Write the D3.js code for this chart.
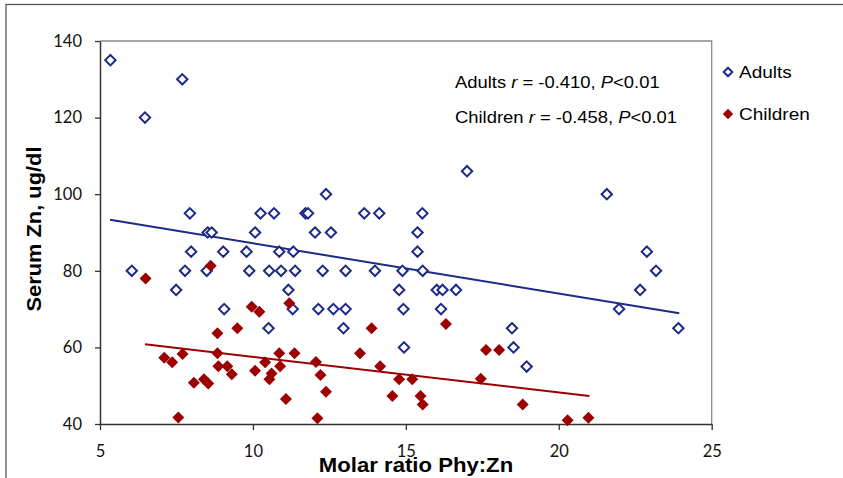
<!DOCTYPE html>
<html>
<head>
<meta charset="utf-8">
<script src="https://cdn.jsdelivr.net/npm/d3@7"></script>
<style>
  html, body { margin: 0; padding: 0; background: #fff; }
  svg { display: block; }
</style>
</head>
<body>
<svg id="chart" width="843" height="478"></svg>
<script>
// ---- data ----
const adultsX = [5.34, 6.47, 7.69, 6.04, 7.49, 7.78, 7.94, 7.98, 8.49, 8.52, 8.65, 9.03, 9.06, 9.79, 9.88, 10.07, 10.25, 10.51, 10.53, 10.69, 10.86, 10.92, 11.16, 11.30, 11.32, 11.38, 11.72, 11.80, 12.03, 12.14, 12.28, 12.39, 12.55, 12.63, 12.96, 13.03, 13.03, 13.64, 13.99, 14.13, 14.78, 14.89, 14.92, 14.94, 15.38, 15.38, 15.54, 15.55, 16.01, 16.15, 16.20, 16.64, 17.00, 18.47, 18.52, 18.95, 21.57, 21.97, 22.66, 22.88, 23.18, 23.91];
const adultsY = [135, 120, 130, 80, 75, 80, 95, 85, 80, 90, 90, 85, 70, 85, 80, 90, 95, 65, 80, 95, 85, 80, 75, 70, 85, 80, 95, 95, 90, 70, 80, 100, 90, 70, 65, 80, 70, 95, 80, 95, 75, 80, 70, 60, 90, 85, 95, 80, 75, 70, 75, 75, 106, 65, 60, 55, 100, 70, 75, 85, 80, 65];
const childrenX = [6.49, 7.10, 7.36, 7.56, 7.70, 8.07, 8.40, 8.54, 8.62, 8.84, 8.84, 8.87, 9.16, 9.31, 9.49, 9.96, 10.07, 10.21, 10.40, 10.54, 10.61, 10.86, 10.89, 11.08, 11.19, 11.36, 12.06, 12.11, 12.21, 12.39, 13.50, 13.88, 14.16, 14.56, 14.78, 15.21, 15.48, 15.55, 16.31, 17.45, 17.62, 18.05, 18.82, 20.29, 20.97];
const childrenY = [78.0, 57.3, 56.1, 41.7, 58.3, 50.8, 51.7, 50.6, 81.3, 63.7, 58.5, 55.1, 55.1, 53.0, 65.0, 70.6, 53.9, 69.3, 56.1, 51.7, 53.2, 58.5, 55.1, 46.5, 71.5, 58.5, 56.2, 41.5, 52.8, 48.4, 58.5, 65.0, 55.1, 47.3, 51.7, 51.7, 47.3, 45.1, 66.1, 51.8, 59.3, 59.3, 45.1, 41.0, 41.6];
const adultsTrendX = [5.33, 23.94];
const adultsTrendY = [93.3, 68.9];
const childrenTrendX = [6.47, 21.0];
const childrenTrendY = [60.8, 47.3];
const xTicks = [5, 10, 15, 20, 25];
const yTicks = [40, 60, 80, 100, 120, 140];
const seriesNames = ["Adults", "Children"];
const statLines = [
  ["Adults ", "r", " = -0.410, ", "P", "<0.01"],
  ["Children ", "r", " = -0.458, ", "P", "<0.01"]
];
const xTitle = "Molar ratio Phy:Zn";
const yTitle = "Serum Zn, ug/dl";

// ---- layout ----
const blue = "#1c2a88", red = "#9c0000";
const svg = d3.select("#chart");
const x = d3.scaleLinear().domain([5, 25]).range([100, 711.7]);
const y = d3.scaleLinear().domain([40, 140]).range([424, 41]);
const SX = 1.12;

// chart border
svg.append("rect").attr("x", 6).attr("y", 4.5).attr("width", 860).attr("height", 500)
  .attr("fill", "none").attr("stroke", "#555").attr("stroke-width", 1.3);

// plot border (top/right)
svg.append("path")
  .attr("d", `M${x(5)},${y(140)}H${x(25)}V${y(40)}`)
  .attr("fill", "none").attr("stroke", "#8a8a8a").attr("stroke-width", 1.3);

// axes
const yAxis = svg.append("g").attr("transform", `translate(${x(5)},0)`)
  .call(d3.axisLeft(y).tickValues(yTicks).tickSize(5).tickSizeOuter(0).tickPadding(13).tickFormat(d3.format("d")));
const xAxis = svg.append("g").attr("transform", `translate(0,${y(40)})`)
  .call(d3.axisBottom(x).tickValues(xTicks).tickSize(6).tickSizeOuter(0).tickPadding(15).tickFormat(d3.format("d")));
[xAxis, yAxis].forEach(g => {
  g.select(".domain").attr("stroke", "#333").attr("stroke-width", 1.5);
  g.selectAll(".tick line").attr("stroke", "#333").attr("stroke-width", 1.3);
  g.selectAll(".tick text").attr("font-family", "Lato, 'Open Sans', sans-serif")
    .attr("font-size", 16.5).attr("fill", "#111");
});

// trend lines
const line = d3.line().x(d => x(d[0])).y(d => y(d[1]));
svg.append("path").datum(d3.zip(adultsTrendX, adultsTrendY)).attr("d", line)
  .attr("stroke", blue).attr("stroke-width", 2).attr("fill", "none");
svg.append("path").datum(d3.zip(childrenTrendX, childrenTrendY)).attr("d", line)
  .attr("stroke", red).attr("stroke-width", 2).attr("fill", "none");

// markers
const diamond = r => `M0,${-r}L${r},0L0,${r}L${-r},0Z`;
svg.append("g").selectAll("path").data(d3.zip(adultsX, adultsY)).join("path")
  .attr("d", diamond(5.2))
  .attr("transform", d => `translate(${x(d[0])},${y(d[1])})`)
  .attr("fill", "#fff").attr("stroke", blue).attr("stroke-width", 2);
svg.append("g").selectAll("path").data(d3.zip(childrenX, childrenY)).join("path")
  .attr("d", diamond(6))
  .attr("transform", d => `translate(${x(d[0])},${y(d[1])})`)
  .attr("fill", red);

// helper for stretched text
function stretched(tx, ty, rot, sx) {
  return svg.append("text")
    .attr("transform", `translate(${tx},${ty}) rotate(${rot}) scale(${sx},1)`)
    .attr("font-family", "Arial, 'Liberation Sans', sans-serif");
}

// axis titles
stretched(416, 471.5, 0, 1.08).attr("text-anchor", "middle")
  .attr("font-size", 20.5).attr("font-weight", "bold").text(xTitle);
stretched(41, 229, -90, 1.12).attr("text-anchor", "middle")
  .attr("font-size", 19.5).attr("font-weight", "bold").text(yTitle);

// stats annotations
const statY = [87.7, 122.7];
statLines.forEach((parts, i) => {
  const t = stretched(455, statY[i], 0, 1.13).attr("font-size", 16.3).attr("fill", "#000");
  parts.forEach((p, j) => {
    t.append("tspan").attr("font-style", (j === 1 || j === 3) ? "italic" : "normal").text(p);
  });
});

// legend
const legY = [72, 114];
const legColors = [blue, red];
seriesNames.forEach((name, i) => {
  if (i === 0) {
    svg.append("path").attr("d", diamond(4.3)).attr("transform", `translate(728,${legY[i]})`)
      .attr("fill", "#fff").attr("stroke", blue).attr("stroke-width", 2);
  } else {
    svg.append("path").attr("d", diamond(5.2)).attr("transform", `translate(728,${legY[i]})`)
      .attr("fill", red);
  }
  stretched(739, legY[i] + 5.8, 0, 1.12).attr("font-size", 17).attr("fill", "#000").text(name);
});
</script>
</body>
</html>
